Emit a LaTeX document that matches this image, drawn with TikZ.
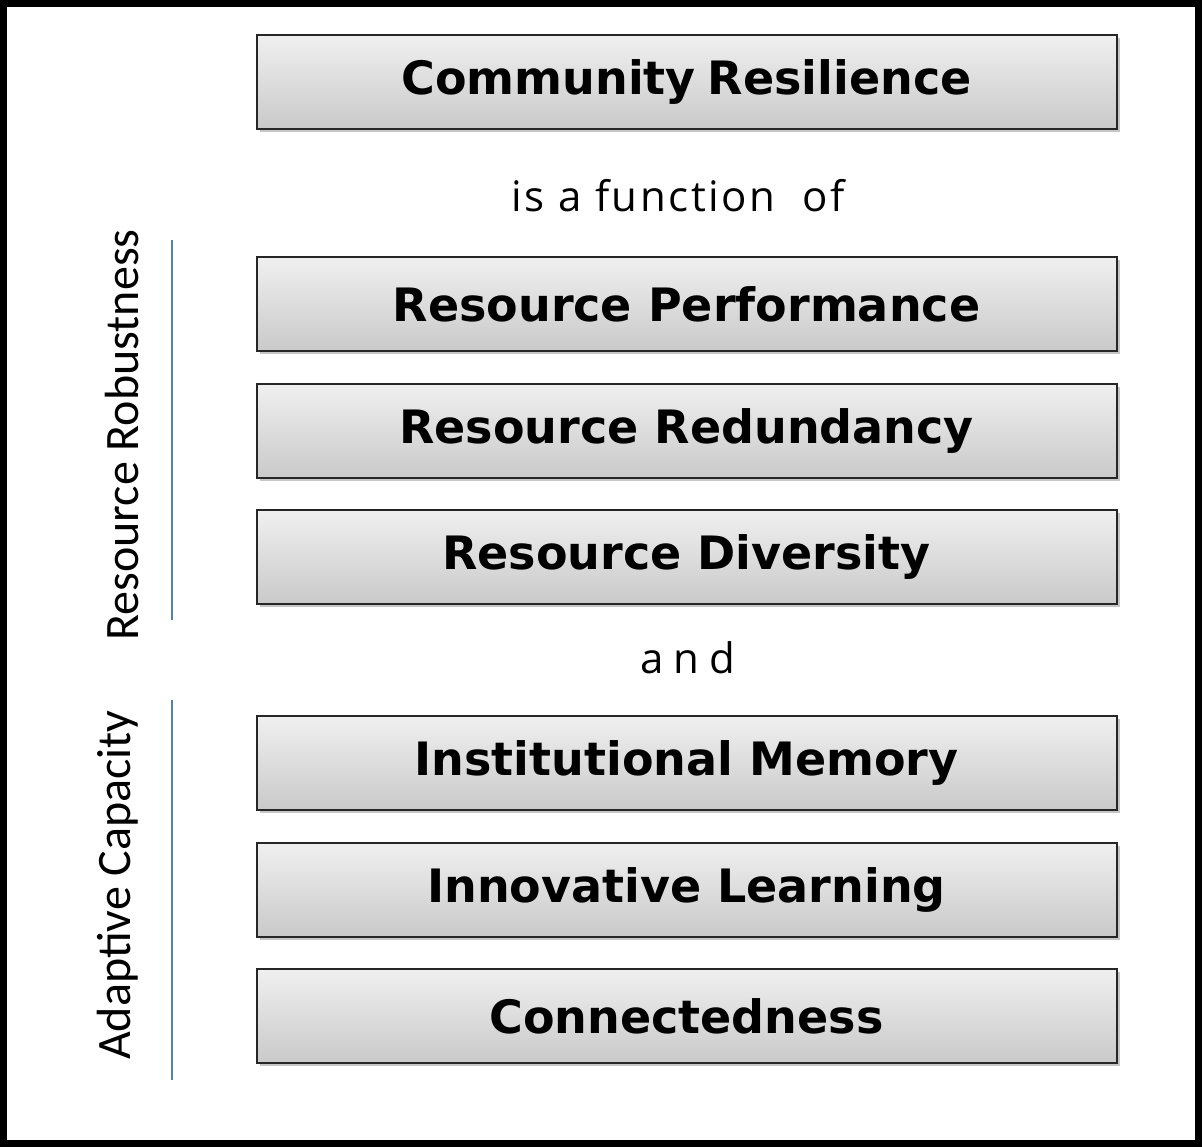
\documentclass[tikz,border=0pt]{standalone}
\usepackage{fontspec}
\setmainfont{Open Sans}
\newfontfamily\boxfont{DejaVu Sans}
\newfontfamily\sidefont{Carlito}
\usetikzlibrary{shadows}
\definecolor{barblue}{RGB}{79,129,189}

\tikzstyle{box} = [rectangle, draw=black!85, line width=1pt, top color=gray!12, bottom color=gray!42, minimum width=430pt, minimum height=47pt, text centered, font=\boxfont\bfseries\fontsize{23}{26}\selectfont, drop shadow={shadow xshift=1.5pt, shadow yshift=-1.5pt, opacity=0.45}]
\tikzstyle{word} = [font=\fontsize{21}{24}\selectfont\addfontfeature{LetterSpace=6}]
\tikzstyle{side} = [rotate=90, font=\sidefont\fontsize{24}{27}\selectfont]
\tikzstyle{bar} = [draw=barblue, line width=0.9pt]

\begin{document}
\begin{tikzpicture}[auto]
\useasboundingbox (0,0) rectangle (601.5pt,-573pt);
\draw [line width=3.5pt] (1.5pt,-1.5pt) rectangle (599pt,-571.5pt);

\node [box] (cr) at (343.25pt,-41pt) {Community\hspace{-2pt} Resilience};
\node [word] (fn) at (339pt,-98pt) {is a function\ \ of};
\node [box] (perf) at (343.25pt,-152pt) {Resource Performance};
\node [box, below of=perf, node distance=63.25pt] (red) {Resource Redundancy};
\node [box, below of=red, node distance=63.25pt] (div) {Resource Diversity};
\node [word, font=\fontsize{21}{24}\selectfont\addfontfeature{LetterSpace=24}] (and) at (344pt,-329pt) {and};
\node [box] (mem) at (343.25pt,-381.5pt) {Institutional Memory};
\node [box, below of=mem, node distance=63.25pt] (learn) {Innovative Learning};
\node [box, below of=learn, node distance=63.25pt] (conn) {Connectedness};

\node [side] (rob) at (61pt,-217.5pt) {Resource Robustness};
\node [side] (ada) at (59pt,-442.5pt) {Adaptive Capacity};

\coordinate (r1) at (86pt,-120pt);
\coordinate (r2) at (86pt,-310pt);
\coordinate (a1) at (86pt,-350pt);
\coordinate (a2) at (86pt,-540pt);
\draw [bar] (r1) -- (r2);
\draw [bar] (a1) -- (a2);
\end{tikzpicture}
\end{document}
